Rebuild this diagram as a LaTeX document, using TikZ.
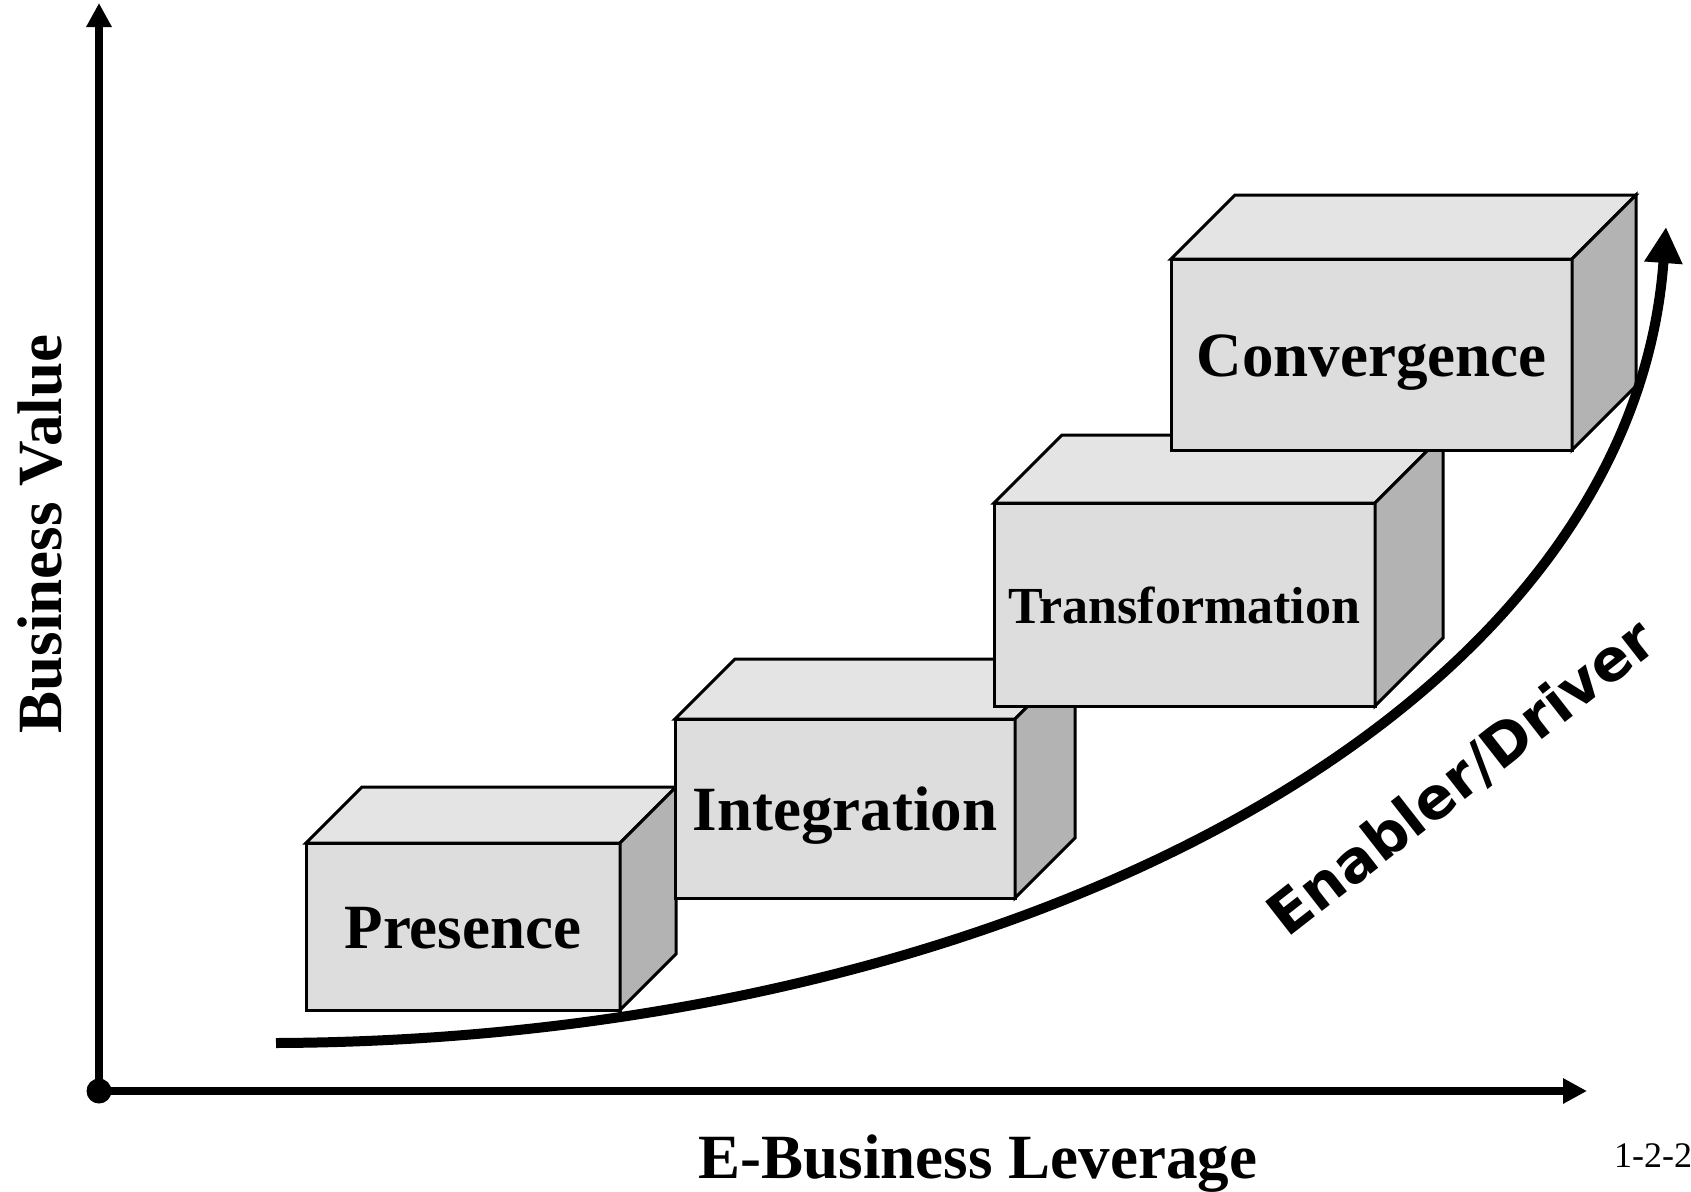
\documentclass[tikz,border=0pt]{standalone}
\usepackage{fontspec}
\setmainfont{Liberation Serif}
\newfontfamily\drvfont{DejaVu Sans}
\usetikzlibrary{arrows.meta,calc}
\definecolor{frontgray}{HTML}{DDDDDD}
\definecolor{topgray}{HTML}{E4E4E4}
\definecolor{sidegray}{HTML}{B3B3B3}
\newcommand{\cubefaces}[2]{%
  \draw[facestyle, fill=topgray] (#1.north west) -- ++(#2,-#2) -- ($(#1.north east)+(#2,-#2)$) -- (#1.north east) -- cycle;
  \draw[facestyle, fill=sidegray] (#1.north east) -- ++(#2,-#2) -- ($(#1.south east)+(#2,-#2)$) -- (#1.south east) -- cycle;}
\begin{document}
\begin{tikzpicture}[x=1pt,y=-1pt,
  facestyle/.style={draw=black, line width=3pt, line join=miter},
  cubefront/.style={draw=black, line width=3pt, fill=frontgray, inner sep=0pt, outer sep=0pt,
    anchor=north west, font=\bfseries\fontsize{63}{70}\selectfont, text height=44pt, text depth=0pt},
  axisline/.style={line width=8pt, -{Triangle[length=24pt,width=24pt]}},
  drivercurve/.style={line width=10pt, line cap=butt, -{Triangle[length=36pt,width=36pt]}},
  axislabel/.style={font=\bfseries\fontsize{63}{70}\selectfont, inner sep=0pt}]
\useasboundingbox (0,0) rectangle (1691,1191);

% axes
\coordinate (ytip) at (99,3);
\coordinate (xtip) at (1587,1091);
\node[circle, fill=black, minimum size=25pt, inner sep=0pt] (origin) at (99,1091) {};
\draw[axisline] (origin.center) -- (ytip);
\draw[axisline] (origin.center) -- (xtip);

% cubes
\node[cubefront, minimum width=314pt, minimum height=167pt] (presence) at (306,843) {Presence};
\cubefaces{presence}{56}
\node[cubefront, minimum width=340pt, minimum height=179pt] (integration) at (675,719) {Integration};
\cubefaces{integration}{60}
\node[cubefront, minimum width=381pt, minimum height=203pt, text height=37pt,
  font=\bfseries\fontsize{52}{60}\selectfont] (transformation) at (994,503) {Transformation};
\cubefaces{transformation}{68}
\node[cubefront, minimum width=401pt, minimum height=191pt] (convergence) at (1171,259) {Convergence};
\cubefaces{convergence}{64}

% enabler curve
\coordinate (cs) at (276,1043);
\coordinate (c1) at (1000,1040);
\coordinate (c2) at (1630,720);
\coordinate (ce) at (1666,227);
\draw[drivercurve] (cs) .. controls (c1) and (c2) .. (ce);

\node[font=\drvfont\bfseries\fontsize{58}{62}\selectfont, rotate=38, inner sep=0pt] (driver) at (1462,778) {Enabler/Driver};

% axis labels
\node[axislabel, anchor=base, rotate=90] (ylabel) at (61,534) {Business Value};
\node[axislabel, anchor=base] (xlabel) at (978,1178) {E-Business Leverage};
\node[font=\fontsize{36}{40}\selectfont, anchor=base west, inner sep=0pt] (fig) at (1614,1167) {1-2-2};
\end{tikzpicture}
\end{document}
